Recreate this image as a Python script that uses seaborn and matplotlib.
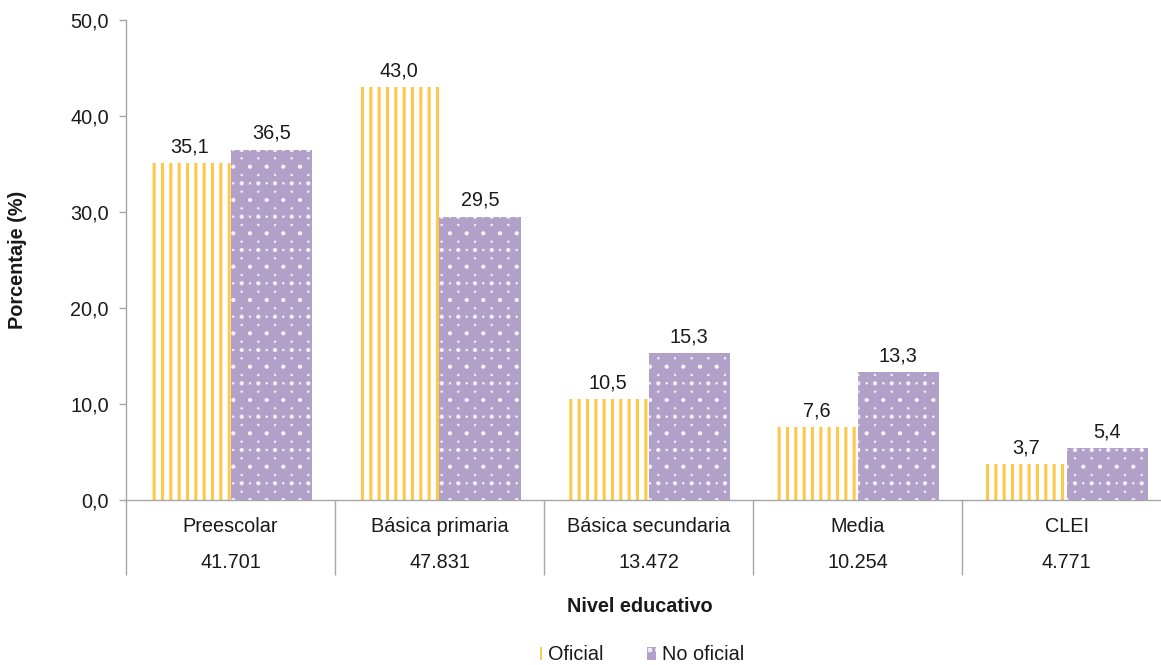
import warnings
import numpy as np
import matplotlib
matplotlib.use("Agg")
import matplotlib.pyplot as plt
import matplotlib.hatch as mhatch
from matplotlib.path import Path
from matplotlib.patches import Patch
import seaborn as sns
import pandas as pd

warnings.filterwarnings('ignore')

categories = ['Preescolar', 'Básica primaria', 'Básica secundaria', 'Media', 'CLEI']
counts = ['41.701', '47.831', '13.472', '10.254', '4.771']
oficial = [35.1, 43.0, 10.5, 7.6, 3.7]
no_oficial = [36.5, 29.5, 15.3, 13.3, 5.4]
series = ['Oficial', 'No oficial']
yticks = [0, 10, 20, 30, 40, 50]

YELLOW = '#FFC84A'
PURPLE = '#B1A0C7'
GRAY = '#A6A6A6'
TXT = '#1a1a1a'
FS = 14.3


# Dense staggered dot texture (rows twice as close as columns) for '.'
class DenseDots(mhatch.HatchPatternBase):
    radius = 0.008

    def __init__(self, hatch, density):
        self.ncols = hatch.count('.') * density
        self.nrows = 2 * self.ncols
        circ = Path.unit_circle()
        self.cverts = circ.vertices * self.radius
        self.ccodes = circ.codes
        if self.ncols == 0:
            self.num_vertices = 0
        else:
            n_shapes = 0
            for r in range(self.nrows + 1):
                n_shapes += (self.ncols + 1) if r % 2 == 0 else self.ncols
            self.num_vertices = n_shapes * len(self.cverts)

    def set_vertices_and_codes(self, vertices, codes):
        vparts, cparts = [], []
        step = 1.0 / self.ncols
        for r in range(self.nrows + 1):
            y = r / self.nrows
            if r % 2 == 0:
                xs = np.linspace(0, 1, self.ncols + 1)
            else:
                xs = np.linspace(step / 2, 1 - step / 2, self.ncols)
            for x in xs:
                vparts.append(self.cverts + [x, y])
                cparts.append(self.ccodes)
        vertices[:] = np.concatenate(vparts)
        codes[:] = np.concatenate(cparts)


try:
    if hasattr(mhatch, '_hatch_types') and mhatch.SmallCircles in mhatch._hatch_types:
        idx = mhatch._hatch_types.index(mhatch.SmallCircles)
        mhatch._hatch_types[idx] = DenseDots
except Exception:
    pass


def set_hlw(p, lw):
    if hasattr(p, 'set_hatch_linewidth'):
        p.set_hatch_linewidth(lw)
    else:
        p._hatch_linewidth = lw


sns.set_theme(style='white')
plt.rcParams['font.family'] = ['Liberation Sans', 'DejaVu Sans']
plt.rcParams['hatch.linewidth'] = 2.2

df = pd.DataFrame({
    'nivel': categories * 2,
    'pct': oficial + no_oficial,
    'tipo': [series[0]] * len(categories) + [series[1]] * len(categories),
})

fig = plt.figure(figsize=(11.61, 6.65), dpi=100)
ax = fig.add_axes([126 / 1161, 165 / 665, 1045 / 1161, 480 / 665])

sns.barplot(data=df, x='nivel', y='pct', hue='tipo', order=categories,
            hue_order=series, palette=[YELLOW, PURPLE], width=0.78,
            gap=0, legend=False, ax=ax, saturation=1)

for p in ax.containers[0]:
    p.set_facecolor('white')
    p.set_edgecolor(YELLOW)
    p.set_linewidth(0)
    p.set_hatch('||')
    set_hlw(p, 2.2)
for p in ax.containers[1]:
    p.set_facecolor(PURPLE)
    p.set_edgecolor('#F4F0F8')
    p.set_linewidth(0)
    p.set_hatch('.')
    set_hlw(p, 0.6)

fmt = lambda v: f"{v:.1f}".replace('.', ',')
for cont, vals in zip(ax.containers, [oficial, no_oficial]):
    ax.bar_label(cont, labels=[fmt(v) for v in vals], padding=5,
                 fontsize=FS, color=TXT)

ax.set_ylim(0, 50)
ax.set_xlim(-0.5, len(categories) - 0.5)
ax.set_yticks(yticks)
ax.set_yticklabels([fmt(v) for v in yticks], fontsize=FS, color=TXT)
ax.tick_params(axis='y', which='major', direction='out', length=5, width=1,
               color=GRAY, pad=7.5, left=True)

ax.set_xticks(range(len(categories)))
ax.set_xticklabels(categories, fontsize=FS, color=TXT)
ax.tick_params(axis='x', which='major', length=0, pad=12)
ax.set_xticks([i - 0.5 for i in range(len(categories) + 1)], minor=True)
ax.tick_params(axis='x', which='minor', direction='out', length=54, width=1,
               color=GRAY, bottom=True)
for i, n in enumerate(counts):
    ax.text(i, -63 / 480, n, transform=ax.get_xaxis_transform(),
            ha='center', va='center', fontsize=FS, color=TXT)

for s in ['top', 'right']:
    ax.spines[s].set_visible(False)
for s in ['left', 'bottom']:
    ax.spines[s].set_color(GRAY)
    ax.spines[s].set_linewidth(1)

ax.set_xlabel('')
ax.set_ylabel('Porcentaje (%)', fontsize=FS, fontweight='bold', color=TXT)
ax.yaxis.label.set_verticalalignment('center')
ax.yaxis.set_label_coords(-108 / 1045, 0.5)

fig.text(640 / 1161, 1 - 607 / 665, 'Nivel educativo', fontsize=FS,
         fontweight='bold', color=TXT, ha='center', va='center')

handles = [Patch(facecolor='white', edgecolor=YELLOW, hatch='|', linewidth=0),
           Patch(facecolor=PURPLE, edgecolor='#F4F0F8', hatch='.', linewidth=0)]
set_hlw(handles[0], 2.2)
set_hlw(handles[1], 0.6)
fig.legend(handles, series, loc='center', bbox_to_anchor=(639 / 1161, 1 - 655 / 665),
           ncol=2, frameon=False, fontsize=FS, handlelength=0.45,
           handleheight=0.6, handletextpad=0.3, columnspacing=2.2,
           labelcolor=TXT, borderpad=0)

fig.savefig('out.png', dpi=100)
